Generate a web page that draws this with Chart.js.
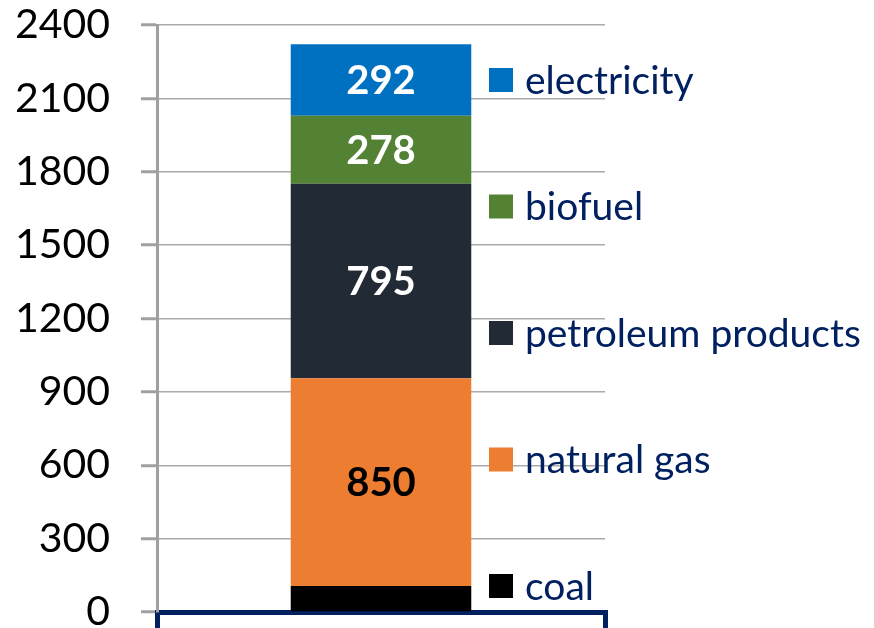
<!DOCTYPE html>
<html>
<head>
    <title>Energy use by source</title>
    <script src="https://cdn.jsdelivr.net/npm/chart.js"></script>
    <style>
        html, body { margin: 0; padding: 0; background: #fff; }
        .container { width: 874px; height: 628px; position: relative; }
    </style>
</head>
<body>
    <div class="container">
        <canvas id="energyChart" width="874" height="628"></canvas>
    </div>

    <script>
        // values, bottom segment first
        const categories = [''];
        const sources = ['coal', 'natural gas', 'petroleum products', 'biofuel', 'electricity'];
        const values = [106, 850, 795, 278, 292];
        const colors = ['#000000', '#ED7D31', '#222A35', '#548235', '#0070C0'];
        const labelColors = [null, '#000000', '#ffffff', '#ffffff', '#ffffff'];
        const yTicks = [0, 300, 600, 900, 1200, 1500, 1800, 2100, 2400];

        const FONT = 'Lato, "Open Sans", sans-serif';
        const NAVY = '#002060';

        // value labels centred in each segment
        const valueLabels = {
            id: 'valueLabels',
            afterDatasetsDraw(chart) {
                const ctx = chart.ctx;
                ctx.save();
                ctx.font = 'bold 40px ' + FONT;
                ctx.textAlign = 'center';
                ctx.textBaseline = 'middle';
                chart.data.datasets.forEach((ds, i) => {
                    if (!labelColors[i]) return;
                    const bar = chart.getDatasetMeta(i).data[0];
                    ctx.fillStyle = labelColors[i];
                    ctx.fillText(String(ds.data[0]), bar.x, (bar.y + bar.base) / 2 + 1);
                });
                ctx.restore();
            }
        };

        // legend spread down the right side, top entry = last dataset
        const sideLegend = {
            id: 'sideLegend',
            afterDraw(chart) {
                const ctx = chart.ctx;
                const area = chart.chartArea;
                const first = area.top + 55;
                const last = area.bottom - 26;
                const n = chart.data.datasets.length;
                const step = (last - first) / (n - 1);
                const boxX = area.right - 116;
                ctx.save();
                ctx.font = '39px ' + FONT;
                ctx.textBaseline = 'middle';
                ctx.textAlign = 'left';
                chart.data.datasets.slice().reverse().forEach((ds, k) => {
                    const y = first + k * step;
                    ctx.fillStyle = ds.backgroundColor;
                    ctx.fillRect(boxX, y - 12, 24, 24);
                    ctx.fillStyle = NAVY;
                    ctx.fillText(ds.label, boxX + 36, y + 1);
                });
                ctx.restore();
            }
        };

        function createChart() {
            const ctx = document.getElementById('energyChart').getContext('2d');
            new Chart(ctx, {
                type: 'bar',
                data: {
                    labels: categories,
                    datasets: sources.map((name, i) => ({
                        label: name,
                        data: [values[i]],
                        backgroundColor: colors[i],
                        borderWidth: 0,
                        barPercentage: 0.403,
                        categoryPercentage: 1
                    }))
                },
                options: {
                    responsive: false,
                    animation: false,
                    layout: { padding: { left: 13, right: 269, top: 0, bottom: 0 } },
                    plugins: {
                        legend: { display: false },
                        tooltip: { enabled: false }
                    },
                    scales: {
                        x: {
                            stacked: true,
                            border: { color: NAVY, width: 5 },
                            grid: {
                                offset: true,
                                drawOnChartArea: false,
                                drawTicks: true,
                                tickLength: 16,
                                color: NAVY,
                                lineWidth: 5
                            },
                            ticks: { display: false }
                        },
                        y: {
                            stacked: true,
                            min: 0,
                            max: 2400,
                            afterBuildTicks: axis => {
                                axis.ticks = yTicks.map(v => ({ value: v }));
                            },
                            afterFit: axis => {
                                axis.width = 144;
                                axis.paddingTop = 25;
                                axis.paddingBottom = 0;
                            },
                            border: { color: '#A0A0A0', width: 3 },
                            grid: {
                                color: '#AAAAAA',
                                lineWidth: 1.5,
                                tickLength: 16,
                                tickColor: '#A0A0A0',
                                tickWidth: 3
                            },
                            ticks: {
                                color: '#000000',
                                padding: 31,
                                font: { family: FONT, size: 41 },
                                callback: v => String(v)
                            }
                        }
                    }
                },
                plugins: [valueLabels, sideLegend]
            });
        }

        createChart();
    </script>
</body>
</html>
